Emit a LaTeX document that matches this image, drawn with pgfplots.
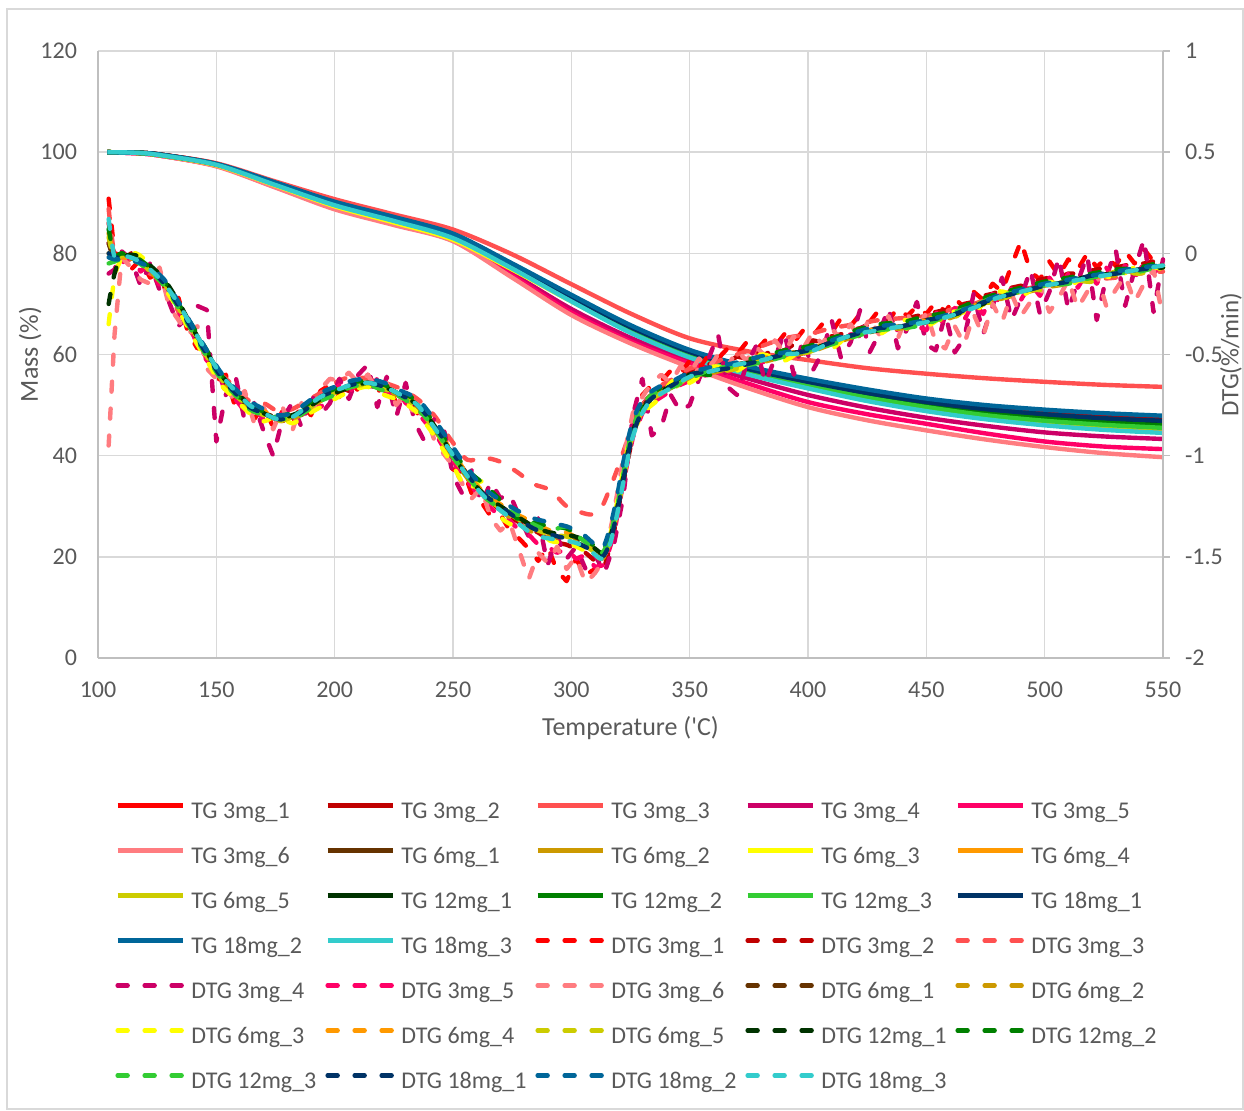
\documentclass[border=0pt]{standalone}
\usepackage{pgfplots}
\pgfplotsset{compat=1.18}
\usepackage{pgfplotstable}
\usepackage{fontspec}
\setmainfont{Carlito}

\definecolor{axgray}{HTML}{BFBFBF}
\definecolor{gridgray}{HTML}{D9D9D9}
\definecolor{txt}{HTML}{595959}
\definecolor{c3a}{HTML}{FF0000}
\definecolor{c3b}{HTML}{C00000}
\definecolor{c3c}{HTML}{FF5050}
\definecolor{c3d}{HTML}{CC0066}
\definecolor{c3e}{HTML}{FF0066}
\definecolor{c3f}{HTML}{FF7C80}
\definecolor{c6a}{HTML}{663300}
\definecolor{c6b}{HTML}{CC9900}
\definecolor{c6c}{HTML}{FFFF00}
\definecolor{c6d}{HTML}{FF9900}
\definecolor{c6e}{HTML}{CCCC00}
\definecolor{c12a}{HTML}{003300}
\definecolor{c12b}{HTML}{008000}
\definecolor{c12c}{HTML}{33CC33}
\definecolor{c18a}{HTML}{003366}
\definecolor{c18b}{HTML}{006699}
\definecolor{c18c}{HTML}{33CCCC}

\pgfplotsset{
  tgline/.style={line width=2.2pt, line join=round, smooth},
  dtgline/.style={line width=2.2pt, line join=round, line cap=round, dash pattern=on 5pt off 8.5pt},
}

% TG curves: mass (%) against temperature
\pgfplotstableread{
T     a1    a2    a3    a4    a5    a6    b1    b2    b3    b4    b5    c1    c2    c3    d1    d2    d3
104   100   100   100   100   100   100   100   100   100   100   100   100   100   100   100   100   100
115   99.9  99.9  99.9  99.8  99.8  99.8  99.9  99.9  99.9  99.9  99.9  99.9  99.9  99.9  99.9  99.9  99.9
125   99.6  99.6  99.6  99.4  99.4  99.4  99.6  99.5  99.5  99.5  99.5  99.6  99.5  99.5  99.6  99.6  99.5
150   97.7  97.7  97.8  97.3  97.3  97.2  97.6  97.5  97.4  97.5  97.6  97.6  97.6  97.6  97.6  97.7  97.5
175   93.9  93.9  94.2  93.2  93.1  93.0  93.8  93.6  93.4  93.6  93.6  93.8  93.7  93.7  93.9  94.0  93.5
200   90.1  90.1  90.7  89.0  88.9  88.7  89.9  89.6  89.3  89.6  89.7  89.9  89.8  89.7  90.0  90.2  89.5
225   87.0  87.1  87.7  85.9  85.8  85.6  86.8  86.6  86.1  86.5  86.6  86.9  86.8  86.6  87.0  87.2  86.4
250   83.7  83.8  84.7  82.6  82.5  82.4  83.5  83.2  82.7  83.1  83.2  83.5  83.4  83.3  83.6  83.9  83.0
275   77.8  77.9  79.8  76.0  75.6  75.2  77.6  77.2  76.8  77.2  77.3  77.6  77.5  77.3  77.7  78.0  77.0
300   71.5  71.6  73.9  69.0  68.3  67.8  71.2  70.8  70.5  70.7  70.8  71.3  71.1  70.9  71.4  71.8  70.5
325   65.5  65.6  68.1  63.3  62.6  62.2  65.1  64.6  64.5  64.5  64.7  65.2  65.0  64.8  65.4  65.8  64.3
350   60.6  60.7  63.2  58.8  58.2  57.5  60.2  59.7  59.6  59.6  59.8  60.3  60.1  59.9  60.5  60.9  59.4
375   57.3  57.4  60.6  55.2  54.2  53.3  56.9  56.3  56.2  56.2  56.4  57.0  56.7  56.5  57.1  57.6  56.0
400   54.8  54.9  58.9  52.0  50.6  49.6  54.3  53.7  53.5  53.6  53.8  54.4  54.2  53.9  54.6  55.2  53.3
425   52.6  52.8  57.3  49.5  48.2  47.0  52.1  51.3  51.0  51.1  51.4  52.2  51.8  51.5  52.4  53.1  50.8
450   50.8  50.9  56.2  47.5  46.3  45.0  50.2  49.3  49.1  49.2  49.4  50.3  49.9  49.6  50.6  51.3  48.8
475   49.4  49.6  55.3  45.9  44.4  43.2  48.7  47.8  47.5  47.6  47.9  48.9  48.5  48.0  49.2  50.0  47.2
500   48.5  48.6  54.6  44.6  42.8  41.7  47.7  46.6  46.3  46.5  46.8  47.9  47.4  46.9  48.2  49.1  46.0
525   47.7  47.9  54.0  43.8  41.8  40.5  46.9  45.8  45.4  45.6  45.9  47.1  46.6  46.1  47.4  48.4  45.1
550   47.2  47.4  53.6  43.3  41.3  39.7  46.4  45.2  44.8  45.0  45.4  46.5  46.0  45.5  46.9  47.9  44.5
}\tgdata

% DTG curves (%/min), runs with a steadier signal
\pgfplotstableread{
T      a3    b1    b2    b3    b4    b5    c1    c2    c3    d1    d2    d3
104.5  0.22  0.05  0.00 -0.35  0.10  0.08 -0.25  0.12 -0.05  0.00 -0.02  0.17
107   -0.01 -0.03 -0.04 -0.12 -0.02 -0.03 -0.10 -0.01 -0.04 -0.02 -0.03 -0.02
110   -0.02 -0.01 -0.03 -0.03 -0.02 -0.01 -0.02  0.00 -0.03 -0.02 -0.03 -0.01
116   -0.05 -0.02 -0.03  0.00 -0.03 -0.02 -0.01 -0.02 -0.04 -0.03 -0.04 -0.03
122   -0.10 -0.08 -0.09 -0.06 -0.08 -0.09 -0.06 -0.07 -0.09 -0.08 -0.07 -0.08
128   -0.14 -0.15 -0.16 -0.17 -0.14 -0.15 -0.13 -0.14 -0.16 -0.15 -0.13 -0.15
134   -0.29 -0.26 -0.25 -0.28 -0.26 -0.27 -0.24 -0.25 -0.27 -0.26 -0.24 -0.25
140   -0.40 -0.38 -0.39 -0.41 -0.37 -0.38 -0.37 -0.36 -0.39 -0.38 -0.36 -0.37
146   -0.52 -0.50 -0.49 -0.53 -0.50 -0.51 -0.49 -0.48 -0.51 -0.50 -0.48 -0.49
152   -0.60 -0.61 -0.62 -0.65 -0.60 -0.62 -0.60 -0.60 -0.62 -0.61 -0.59 -0.60
158   -0.66 -0.69 -0.70 -0.72 -0.69 -0.70 -0.68 -0.69 -0.70 -0.69 -0.67 -0.68
164   -0.73 -0.76 -0.77 -0.79 -0.75 -0.76 -0.75 -0.76 -0.77 -0.76 -0.73 -0.75
170   -0.74 -0.79 -0.80 -0.83 -0.78 -0.80 -0.79 -0.78 -0.80 -0.79 -0.77 -0.79
176   -0.78 -0.81 -0.82 -0.80 -0.81 -0.83 -0.82 -0.80 -0.81 -0.82 -0.80 -0.82
182   -0.77 -0.81 -0.82 -0.84 -0.80 -0.81 -0.80 -0.79 -0.82 -0.81 -0.79 -0.81
188   -0.73 -0.77 -0.78 -0.80 -0.76 -0.78 -0.77 -0.75 -0.78 -0.77 -0.74 -0.76
194   -0.69 -0.72 -0.73 -0.76 -0.71 -0.72 -0.72 -0.70 -0.73 -0.71 -0.69 -0.71
200   -0.64 -0.69 -0.68 -0.72 -0.68 -0.69 -0.69 -0.67 -0.70 -0.68 -0.66 -0.68
207   -0.61 -0.65 -0.66 -0.68 -0.65 -0.66 -0.66 -0.64 -0.66 -0.65 -0.63 -0.65
214   -0.62 -0.64 -0.65 -0.66 -0.64 -0.65 -0.64 -0.63 -0.65 -0.64 -0.62 -0.64
221   -0.64 -0.66 -0.67 -0.70 -0.66 -0.67 -0.66 -0.65 -0.68 -0.66 -0.64 -0.66
228   -0.67 -0.70 -0.71 -0.73 -0.70 -0.71 -0.70 -0.69 -0.71 -0.70 -0.68 -0.70
235   -0.72 -0.75 -0.76 -0.79 -0.75 -0.76 -0.75 -0.73 -0.77 -0.75 -0.72 -0.75
242   -0.80 -0.86 -0.87 -0.90 -0.85 -0.87 -0.85 -0.84 -0.86 -0.85 -0.82 -0.86
249   -0.92 -0.98 -0.99 -1.03 -0.97 -0.99 -0.98 -0.96 -0.99 -0.97 -0.94 -0.98
256   -1.02 -1.09 -1.11 -1.16 -1.09 -1.10 -1.10 -1.07 -1.10 -1.09 -1.06 -1.10
263   -1.01 -1.19 -1.20 -1.13 -1.18 -1.20 -1.19 -1.14 -1.20 -1.19 -1.16 -1.20
270   -1.03 -1.25 -1.27 -1.30 -1.24 -1.26 -1.25 -1.22 -1.26 -1.25 -1.22 -1.27
277   -1.08 -1.30 -1.33 -1.35 -1.29 -1.31 -1.30 -1.31 -1.29 -1.31 -1.27 -1.33
284   -1.14 -1.35 -1.38 -1.34 -1.33 -1.36 -1.35 -1.33 -1.34 -1.36 -1.31 -1.39
291   -1.17 -1.38 -1.40 -1.42 -1.37 -1.39 -1.38 -1.35 -1.37 -1.39 -1.33 -1.41
298   -1.25 -1.39 -1.41 -1.43 -1.38 -1.40 -1.39 -1.36 -1.35 -1.41 -1.35 -1.42
304   -1.28 -1.42 -1.44 -1.46 -1.42 -1.43 -1.41 -1.40 -1.41 -1.44 -1.38 -1.44
309   -1.29 -1.46 -1.48 -1.49 -1.46 -1.47 -1.45 -1.44 -1.45 -1.47 -1.43 -1.48
313   -1.25 -1.49 -1.51 -1.50 -1.49 -1.50 -1.48 -1.47 -1.48 -1.50 -1.46 -1.51
316   -1.17 -1.43 -1.44 -1.41 -1.43 -1.44 -1.42 -1.40 -1.41 -1.44 -1.37 -1.45
319   -1.08 -1.28 -1.30 -1.25 -1.29 -1.30 -1.28 -1.26 -1.27 -1.30 -1.22 -1.31
322   -0.98 -1.10 -1.12 -1.07 -1.11 -1.12 -1.10 -1.08 -1.09 -1.12 -1.03 -1.13
325   -0.88 -0.92 -0.94 -0.90 -0.93 -0.94 -0.92 -0.90 -0.91 -0.94 -0.87 -0.95
328   -0.80 -0.82 -0.83 -0.84 -0.81 -0.83 -0.82 -0.79 -0.80 -0.83 -0.77 -0.84
332   -0.72 -0.73 -0.75 -0.77 -0.73 -0.74 -0.74 -0.71 -0.72 -0.74 -0.70 -0.75
337   -0.66 -0.69 -0.70 -0.72 -0.69 -0.70 -0.69 -0.67 -0.68 -0.69 -0.66 -0.70
343   -0.62 -0.66 -0.66 -0.63 -0.65 -0.67 -0.65 -0.64 -0.66 -0.65 -0.63 -0.66
350   -0.57 -0.61 -0.62 -0.64 -0.60 -0.61 -0.60 -0.59 -0.62 -0.60 -0.59 -0.61
360   -0.54 -0.58 -0.59 -0.56 -0.58 -0.59 -0.58 -0.60 -0.57 -0.58 -0.56 -0.58
370   -0.50 -0.55 -0.56 -0.58 -0.55 -0.57 -0.55 -0.54 -0.56 -0.56 -0.54 -0.55
380   -0.46 -0.53 -0.54 -0.50 -0.52 -0.53 -0.53 -0.51 -0.54 -0.53 -0.51 -0.53
390   -0.42 -0.50 -0.51 -0.53 -0.50 -0.49 -0.50 -0.48 -0.51 -0.50 -0.49 -0.50
400   -0.40 -0.48 -0.49 -0.46 -0.47 -0.49 -0.48 -0.46 -0.48 -0.48 -0.47 -0.49
410   -0.37 -0.44 -0.45 -0.47 -0.44 -0.43 -0.44 -0.42 -0.45 -0.44 -0.43 -0.44
420   -0.35 -0.40 -0.41 -0.38 -0.40 -0.41 -0.40 -0.38 -0.41 -0.40 -0.39 -0.40
430   -0.33 -0.37 -0.38 -0.40 -0.37 -0.36 -0.38 -0.35 -0.38 -0.37 -0.36 -0.38
440   -0.32 -0.36 -0.37 -0.33 -0.36 -0.38 -0.36 -0.34 -0.37 -0.36 -0.35 -0.36
450   -0.31 -0.33 -0.34 -0.36 -0.33 -0.32 -0.34 -0.31 -0.35 -0.33 -0.33 -0.34
460   -0.28 -0.31 -0.32 -0.29 -0.31 -0.33 -0.31 -0.29 -0.30 -0.31 -0.30 -0.31
470   -0.25 -0.26 -0.27 -0.29 -0.26 -0.25 -0.27 -0.24 -0.26 -0.26 -0.26 -0.27
480   -0.21 -0.22 -0.23 -0.19 -0.22 -0.24 -0.22 -0.20 -0.21 -0.22 -0.21 -0.22
490   -0.18 -0.19 -0.20 -0.21 -0.19 -0.18 -0.19 -0.17 -0.19 -0.19 -0.18 -0.19
500   -0.16 -0.16 -0.17 -0.14 -0.16 -0.18 -0.16 -0.14 -0.16 -0.16 -0.15 -0.16
510   -0.15 -0.14 -0.15 -0.16 -0.14 -0.13 -0.14 -0.12 -0.15 -0.14 -0.13 -0.14
520   -0.13 -0.11 -0.12 -0.10 -0.12 -0.14 -0.11 -0.10 -0.12 -0.11 -0.11 -0.12
530   -0.12 -0.10 -0.11 -0.12 -0.10 -0.09 -0.10 -0.08 -0.10 -0.10 -0.09 -0.10
540   -0.10 -0.08 -0.09 -0.06 -0.08 -0.10 -0.08 -0.07 -0.09 -0.08 -0.07 -0.08
550   -0.09 -0.06 -0.07 -0.08 -0.06 -0.07 -0.07 -0.04 -0.06 -0.07 -0.06 -0.06
}\dtgsteady

% DTG curves (%/min), the noisier 3 mg runs
\pgfplotstableread{
T      a1    a2    a4    a5    a6
104.5  0.27  0.15 -0.10  0.05 -0.95
107    0.00 -0.02 -0.08 -0.02 -0.40
110   -0.01 -0.04  0.01 -0.05 -0.02
114   -0.08  0.00 -0.03 -0.01 -0.07
118   -0.03 -0.07 -0.16 -0.09 -0.13
122   -0.12 -0.06 -0.05 -0.05 -0.15
126   -0.09 -0.15 -0.18 -0.16 -0.07
130   -0.24 -0.17 -0.24 -0.15 -0.26
134   -0.22 -0.28 -0.36 -0.30 -0.33
138   -0.39 -0.33 -0.31 -0.32 -0.40
142   -0.47 -0.43 -0.26 -0.46 -0.36
146   -0.46 -0.52 -0.28 -0.53 -0.57
150   -0.63 -0.57 -0.93 -0.56 -0.62
154   -0.60 -0.66 -0.70 -0.69 -0.65
158   -0.76 -0.68 -0.60 -0.72 -0.74
162   -0.71 -0.76 -0.83 -0.78 -0.68
166   -0.82 -0.75 -0.74 -0.77 -0.84
170   -0.75 -0.81 -0.88 -0.82 -0.76
174   -0.86 -0.80 -1.00 -0.84 -0.87
178   -0.78 -0.83 -0.82 -0.79 -0.76
182   -0.85 -0.79 -0.74 -0.84 -0.88
186   -0.75 -0.80 -0.86 -0.78 -0.74
190   -0.80 -0.74 -0.69 -0.73 -0.81
194   -0.68 -0.73 -0.80 -0.76 -0.67
198   -0.65 -0.69 -0.74 -0.72 -0.62
202   -0.71 -0.66 -0.62 -0.65 -0.63
206   -0.62 -0.68 -0.72 -0.69 -0.59
210   -0.68 -0.63 -0.60 -0.63 -0.64
214   -0.60 -0.65 -0.55 -0.67 -0.60
218   -0.69 -0.64 -0.76 -0.62 -0.68
222   -0.63 -0.70 -0.61 -0.70 -0.64
226   -0.74 -0.68 -0.81 -0.67 -0.75
230   -0.68 -0.73 -0.64 -0.74 -0.69
234   -0.80 -0.75 -0.84 -0.77 -0.82
238   -0.76 -0.82 -0.93 -0.83 -0.77
242   -0.91 -0.86 -0.82 -0.88 -0.92
246   -0.93 -0.95 -0.86 -0.96 -0.99
250   -1.07 -1.00 -1.10 -1.02 -1.05
254   -1.06 -1.09 -1.19 -1.11 -1.14
258   -1.19 -1.13 -1.07 -1.15 -1.21
262   -1.23 -1.20 -1.24 -1.22 -1.16
266   -1.30 -1.23 -1.13 -1.26 -1.31
270   -1.29 -1.27 -1.21 -1.30 -1.37
274   -1.37 -1.30 -1.19 -1.32 -1.33
278   -1.41 -1.33 -1.30 -1.37 -1.47
282   -1.46 -1.36 -1.40 -1.39 -1.61
286   -1.52 -1.38 -1.31 -1.44 -1.48
290   -1.45 -1.41 -1.54 -1.45 -1.53
294   -1.57 -1.43 -1.40 -1.48 -1.45
298   -1.62 -1.44 -1.51 -1.46 -1.56
302   -1.51 -1.46 -1.45 -1.51 -1.50
306   -1.59 -1.48 -1.56 -1.49 -1.63
310   -1.56 -1.52 -1.49 -1.55 -1.58
314   -1.53 -1.55 -1.58 -1.54 -1.51
318   -1.30 -1.38 -1.44 -1.39 -1.28
322   -1.04 -1.13 -1.20 -1.13 -1.01
326   -0.83 -0.90 -0.80 -0.91 -0.79
330   -0.70 -0.75 -0.62 -0.79 -0.71
334   -0.65 -0.69 -0.90 -0.74 -0.64
338   -0.63 -0.67 -0.86 -0.71 -0.60
342   -0.58 -0.64 -0.70 -0.68 -0.64
346   -0.60 -0.61 -0.78 -0.65 -0.56
350   -0.53 -0.58 -0.75 -0.63 -0.59
354   -0.57 -0.56 -0.62 -0.61 -0.52
358   -0.50 -0.55 -0.52 -0.60 -0.57
362   -0.52 -0.53 -0.40 -0.57 -0.50
366   -0.47 -0.54 -0.66 -0.59 -0.56
370   -0.50 -0.51 -0.70 -0.56 -0.48
374   -0.44 -0.52 -0.55 -0.55 -0.53
378   -0.48 -0.49 -0.46 -0.53 -0.46
382   -0.43 -0.50 -0.64 -0.54 -0.51
386   -0.46 -0.47 -0.52 -0.51 -0.43
390   -0.40 -0.48 -0.39 -0.50 -0.49
394   -0.44 -0.45 -0.60 -0.49 -0.41
398   -0.38 -0.46 -0.42 -0.50 -0.47
402   -0.41 -0.43 -0.58 -0.46 -0.39
406   -0.35 -0.44 -0.49 -0.47 -0.45
410   -0.39 -0.41 -0.33 -0.43 -0.37
414   -0.32 -0.40 -0.52 -0.44 -0.43
418   -0.36 -0.38 -0.44 -0.40 -0.35
422   -0.30 -0.37 -0.28 -0.41 -0.42
426   -0.34 -0.35 -0.49 -0.37 -0.32
430   -0.28 -0.35 -0.40 -0.39 -0.40
434   -0.33 -0.33 -0.27 -0.36 -0.31
438   -0.27 -0.34 -0.47 -0.38 -0.42
442   -0.31 -0.32 -0.37 -0.35 -0.30
446   -0.26 -0.31 -0.24 -0.36 -0.39
450   -0.30 -0.30 -0.45 -0.38 -0.29
454   -0.24 -0.29 -0.48 -0.29 -0.44
458   -0.29 -0.28 -0.30 -0.36 -0.47
462   -0.22 -0.27 -0.49 -0.27 -0.36
466   -0.27 -0.25 -0.42 -0.33 -0.45
470   -0.19 -0.24 -0.20 -0.24 -0.30
474   -0.23 -0.21 -0.40 -0.30 -0.41
478   -0.15 -0.20 -0.26 -0.20 -0.25
482   -0.19 -0.18 -0.12 -0.26 -0.34
486   -0.06 -0.17 -0.33 -0.17 -0.20
490    0.06 -0.16 -0.22 -0.23 -0.31
494   -0.09 -0.15 -0.08 -0.15 -0.24
498   -0.13 -0.13 -0.30 -0.21 -0.16
502   -0.04 -0.12 -0.19 -0.12 -0.29
506   -0.11 -0.12 -0.02 -0.19 -0.22
510   -0.03 -0.10 -0.28 -0.10 -0.13
514   -0.08 -0.10 -0.14 -0.17 -0.27
518    0.00 -0.09 -0.01 -0.09 -0.19
522   -0.07 -0.08 -0.33 -0.15 -0.10
526   -0.02 -0.07 -0.12 -0.07 -0.26
530   -0.06 -0.07  0.02 -0.14 -0.18
534    0.01 -0.06 -0.26 -0.06 -0.11
538   -0.05 -0.05 -0.08 -0.12 -0.24
542    0.02 -0.05  0.07 -0.05 -0.15
546   -0.04 -0.04 -0.29 -0.10 -0.08
550   -0.01 -0.03 -0.03 -0.04 -0.32
}\dtgnoisy

\newcommand{\lab}[1]{\makebox[67pt][l]{#1}}

\begin{document}
\begin{tikzpicture}[x=1pt,y=1pt]
\path[use as bounding box] (0,0) rectangle (622,555);
\draw[gridgray, line width=0.75pt] (3.5,0.5) rectangle (621.5,550.5);

% mass axis (left)
\begin{axis}[
  at={(49pt,226pt)}, anchor=south west, scale only axis,
  width=532.5pt, height=303.5pt,
  xmin=100, xmax=550, ymin=0, ymax=120,
  xtick={100,150,...,550}, ytick={0,20,...,120},
  axis x line*=bottom, axis y line*=left,
  axis line style={axgray, line width=0.75pt},
  grid=major, major grid style={gridgray, line width=0.75pt},
  major tick length=0pt,
  /pgf/number format/assume math mode=true,
  ticklabel style={font=\fontsize{12}{14}\selectfont, text=txt},
  yticklabel style={xshift=-7pt},
  xticklabel style={yshift=-8.5pt},
  xlabel={Temperature (\textquotesingle C)}, ylabel={Mass (\%)},
  label style={font=\fontsize{13}{15}\selectfont, text=txt},
  xlabel style={at={(axis description cs:0.5,-0.1153)}, anchor=center},
  ylabel style={at={(axis description cs:-0.0638,0.5)}, anchor=center},
  clip=false,
]
\addplot[tgline, c3a]  table[x=T, y=a1] {\tgdata};
\addplot[tgline, c3b]  table[x=T, y=a2] {\tgdata};
\addplot[tgline, c3c]  table[x=T, y=a3] {\tgdata};
\addplot[tgline, c3d]  table[x=T, y=a4] {\tgdata};
\addplot[tgline, c3e]  table[x=T, y=a5] {\tgdata};
\addplot[tgline, c3f]  table[x=T, y=a6] {\tgdata};
\addplot[tgline, c6a]  table[x=T, y=b1] {\tgdata};
\addplot[tgline, c6b]  table[x=T, y=b2] {\tgdata};
\addplot[tgline, c6c]  table[x=T, y=b3] {\tgdata};
\addplot[tgline, c6d]  table[x=T, y=b4] {\tgdata};
\addplot[tgline, c6e]  table[x=T, y=b5] {\tgdata};
\addplot[tgline, c12a] table[x=T, y=c1] {\tgdata};
\addplot[tgline, c12b] table[x=T, y=c2] {\tgdata};
\addplot[tgline, c12c] table[x=T, y=c3] {\tgdata};
\addplot[tgline, c18a] table[x=T, y=d1] {\tgdata};
\addplot[tgline, c18b] table[x=T, y=d2] {\tgdata};
\addplot[tgline, c18c] table[x=T, y=d3] {\tgdata};
\end{axis}

% DTG axis (right) with the legend for all runs
\begin{axis}[
  at={(49pt,226pt)}, anchor=south west, scale only axis,
  width=532.5pt, height=303.5pt,
  xmin=100, xmax=550, ymin=-2, ymax=1,
  ytick={-2,-1.5,-1,-0.5,0,0.5,1},
  axis x line=none, axis y line*=right,
  axis line style={axgray, line width=0.75pt},
  tick align=outside, major tick length=3.5pt,
  tick style={axgray, line width=0.75pt},
  /pgf/number format/assume math mode=true,
  ticklabel style={font=\fontsize{12}{14}\selectfont, text=txt},
  yticklabel style={xshift=4pt},
  ylabel={DTG(\%/min)},
  ylabel style={font=\fontsize{12.5}{14}\selectfont, text=txt, inner sep=0pt, at={(axis description cs:1.0638,0.5)}, anchor=center},
  clip=false,
  legend columns=5,
  legend cell align=left,
  legend image code/.code={\draw[#1, line width=2.2pt] (1.1pt,3.5pt) -- (33.9pt,3.5pt);},
  legend style={at={(0.016,-0.234)}, anchor=north west, draw=none, fill=none,
    font=\fontsize{12}{14}\selectfont, text=txt, inner sep=0pt,
    nodes={inner sep=0pt, text height=9pt, text depth=3pt},
    /tikz/every odd column/.append style={column sep=3pt},
    /tikz/every even column/.append style={column sep=0pt},
    row sep=10.5pt},
]
\addlegendimage{tgline, c3a}  \addlegendentry{\lab{TG 3mg\_1}}
\addlegendimage{tgline, c3b}  \addlegendentry{\lab{TG 3mg\_2}}
\addlegendimage{tgline, c3c}  \addlegendentry{\lab{TG 3mg\_3}}
\addlegendimage{tgline, c3d}  \addlegendentry{\lab{TG 3mg\_4}}
\addlegendimage{tgline, c3e}  \addlegendentry{\lab{TG 3mg\_5}}
\addlegendimage{tgline, c3f}  \addlegendentry{\lab{TG 3mg\_6}}
\addlegendimage{tgline, c6a}  \addlegendentry{\lab{TG 6mg\_1}}
\addlegendimage{tgline, c6b}  \addlegendentry{\lab{TG 6mg\_2}}
\addlegendimage{tgline, c6c}  \addlegendentry{\lab{TG 6mg\_3}}
\addlegendimage{tgline, c6d}  \addlegendentry{\lab{TG 6mg\_4}}
\addlegendimage{tgline, c6e}  \addlegendentry{\lab{TG 6mg\_5}}
\addlegendimage{tgline, c12a} \addlegendentry{\lab{TG 12mg\_1}}
\addlegendimage{tgline, c12b} \addlegendentry{\lab{TG 12mg\_2}}
\addlegendimage{tgline, c12c} \addlegendentry{\lab{TG 12mg\_3}}
\addlegendimage{tgline, c18a} \addlegendentry{\lab{TG 18mg\_1}}
\addlegendimage{tgline, c18b} \addlegendentry{\lab{TG 18mg\_2}}
\addlegendimage{tgline, c18c} \addlegendentry{\lab{TG 18mg\_3}}
\addplot[dtgline, c3a]  table[x=T, y=a1] {\dtgnoisy};  \addlegendentry{\lab{DTG 3mg\_1}}
\addplot[dtgline, c3b]  table[x=T, y=a2] {\dtgnoisy};  \addlegendentry{\lab{DTG 3mg\_2}}
\addplot[dtgline, c3c, smooth] table[x=T, y=a3] {\dtgsteady}; \addlegendentry{\lab{DTG 3mg\_3}}
\addplot[dtgline, c3d]  table[x=T, y=a4] {\dtgnoisy};  \addlegendentry{\lab{DTG 3mg\_4}}
\addplot[dtgline, c3e]  table[x=T, y=a5] {\dtgnoisy};  \addlegendentry{\lab{DTG 3mg\_5}}
\addplot[dtgline, c3f]  table[x=T, y=a6] {\dtgnoisy};  \addlegendentry{\lab{DTG 3mg\_6}}
\addplot[dtgline, c6a, smooth]  table[x=T, y=b1] {\dtgsteady}; \addlegendentry{\lab{DTG 6mg\_1}}
\addplot[dtgline, c6b, smooth]  table[x=T, y=b2] {\dtgsteady}; \addlegendentry{\lab{DTG 6mg\_2}}
\addplot[dtgline, c6c, smooth]  table[x=T, y=b3] {\dtgsteady}; \addlegendentry{\lab{DTG 6mg\_3}}
\addplot[dtgline, c6d, smooth]  table[x=T, y=b4] {\dtgsteady}; \addlegendentry{\lab{DTG 6mg\_4}}
\addplot[dtgline, c6e, smooth]  table[x=T, y=b5] {\dtgsteady}; \addlegendentry{\lab{DTG 6mg\_5}}
\addplot[dtgline, c12a, smooth] table[x=T, y=c1] {\dtgsteady}; \addlegendentry{\lab{DTG 12mg\_1}}
\addplot[dtgline, c12b, smooth] table[x=T, y=c2] {\dtgsteady}; \addlegendentry{\lab{DTG 12mg\_2}}
\addplot[dtgline, c12c, smooth] table[x=T, y=c3] {\dtgsteady}; \addlegendentry{\lab{DTG 12mg\_3}}
\addplot[dtgline, c18a, smooth] table[x=T, y=d1] {\dtgsteady}; \addlegendentry{\lab{DTG 18mg\_1}}
\addplot[dtgline, c18b, smooth] table[x=T, y=d2] {\dtgsteady}; \addlegendentry{\lab{DTG 18mg\_2}}
\addplot[dtgline, c18c, smooth] table[x=T, y=d3] {\dtgsteady}; \addlegendentry{\lab{DTG 18mg\_3}}
\end{axis}
\end{tikzpicture}
\end{document}
